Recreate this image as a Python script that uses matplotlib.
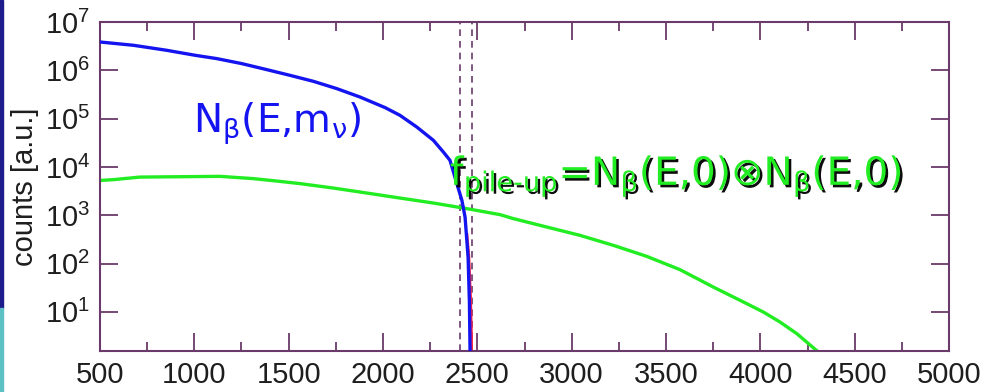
import numpy as np
import matplotlib
matplotlib.use('Agg')
import matplotlib.pyplot as plt
import matplotlib.patheffects as pe
from matplotlib.patches import Rectangle
from matplotlib.ticker import FixedLocator, FuncFormatter, LogLocator, NullFormatter

# beta spectrum N_beta(E, m_nu) (log10 of counts)
beta_E = [500, 677, 854, 1004, 1119, 1251, 1384, 1507, 1631, 1755, 1878, 2011, 2090, 2179, 2267,
          2320, 2355, 2391, 2418, 2435, 2451, 2458, 2463]
beta_log = [6.586, 6.518, 6.414, 6.311, 6.242, 6.139, 6.014, 5.896, 5.772, 5.621, 5.447, 5.228,
            5.068, 4.826, 4.551, 4.308, 4.137, 3.66, 3.31, 2.96, 2.13, 1.2, -0.3]

# massless spectrum near the endpoint (mostly hidden behind the blue one)
beta0_E = [2445, 2455, 2464, 2469, 2471]
beta0_log = [2.6, 2.15, 1.3, 0.5, -0.3]

# pile-up spectrum (log10 of counts)
pile_E = [500, 571, 712, 1136, 1313, 1437, 1560, 1737, 1914, 2090, 2267, 2444, 2621, 2691, 2868,
          3044, 3221, 3398, 3574, 3751, 3928, 4016, 4104, 4193, 4307, 4330]
pile_log = [3.72, 3.737, 3.79, 3.805, 3.758, 3.708, 3.655, 3.563, 3.46, 3.356, 3.253, 3.137, 3.012,
            2.93, 2.756, 2.584, 2.377, 2.149, 1.874, 1.513, 1.17, 0.996, 0.79, 0.55, 0.17, 0.0]

roi_E = [2410, 2470]
x_ticks = [500, 1000, 1500, 2000, 2500, 3000, 3500, 4000, 4500, 5000]
y_ticks = [1e1, 1e2, 1e3, 1e4, 1e5, 1e6, 1e7]

frame = '#6a3a6a'
blue = '#1414f0'
green = '#22ec22'

fig = plt.figure(figsize=(9.85, 3.92), dpi=100)
ax = fig.add_axes([0.1015, 0.1046, 0.862, 0.8393])

# slide edge on the left
fig.patches.append(Rectangle((0, 0.214), 0.0035, 0.786, transform=fig.transFigure,
                             color='#1c1c8a', zorder=0))
fig.patches.append(Rectangle((0, 0), 0.0035, 0.214, transform=fig.transFigure,
                             color='#5cc0c4', zorder=0))

for e in roi_E:
    ax.axvline(e, color=frame, ls=(0, (4, 3)), lw=1.2, zorder=1)

ax.plot(pile_E, 10 ** np.array(pile_log), color=green, lw=2.4, zorder=2)
ax.plot(beta0_E, 10 ** np.array(beta0_log), color='#ff2040', lw=2.0, zorder=2)
ax.plot(beta_E, 10 ** np.array(beta_log), color=blue, lw=2.4, zorder=3)

ax.set_yscale('log')
ax.set_xlim(500, 5000)
ax.set_ylim(1.55, 1.0e7)

ax.xaxis.set_major_locator(FixedLocator(x_ticks))
ax.xaxis.set_minor_locator(FixedLocator(np.arange(750, 5000, 500)))
ax.yaxis.set_major_locator(FixedLocator(y_ticks))
ax.yaxis.set_minor_locator(LogLocator(base=10, subs=np.arange(2, 10)))
ax.yaxis.set_minor_formatter(NullFormatter())
ax.yaxis.set_major_formatter(FuncFormatter(lambda v, p: r'$\mathregular{10^{%d}}$' % round(np.log10(v))))

ax.tick_params(which='both', direction='in', top=True, right=True, color=frame, width=1.3,
               labelsize=21, labelcolor='#1e1e1e')
ax.tick_params(which='major', length=13, pad=7)
ax.tick_params(which='minor', length=6.5)
for lab in ax.get_xticklabels() + ax.get_yticklabels():
    lab.set_fontfamily('Liberation Sans')

for s in ax.spines.values():
    s.set_color(frame)
    s.set_linewidth(1.5)

ax.set_ylabel('counts [a.u.]', fontsize=21, family='Liberation Sans', color='#1e1e1e')
ax.yaxis.set_label_coords(-0.088, 0.5)
ax.yaxis.label.set_va('center')

ax.text(0.1095, 0.663, r'N$_\mathrm{\beta}$(E,m$_\mathrm{\nu}$)', transform=ax.transAxes,
        fontsize=28, color=blue, family='DejaVu Sans', va='baseline', ha='left', zorder=5)

shadow = [pe.withSimplePatchShadow(offset=(1.8, -1.8), shadow_rgbFace='black', alpha=0.95)]
ax.text(0.412, 0.505, r'f$_{\text{pile-up}}$=N$_\mathrm{\beta}$(E,0)⊗N$_\mathrm{\beta}$(E,0)',
        transform=ax.transAxes, fontsize=28, color=green, family='DejaVu Sans',
        va='baseline', ha='left', zorder=5, path_effects=shadow)

fig.savefig('out.png', dpi=100)
